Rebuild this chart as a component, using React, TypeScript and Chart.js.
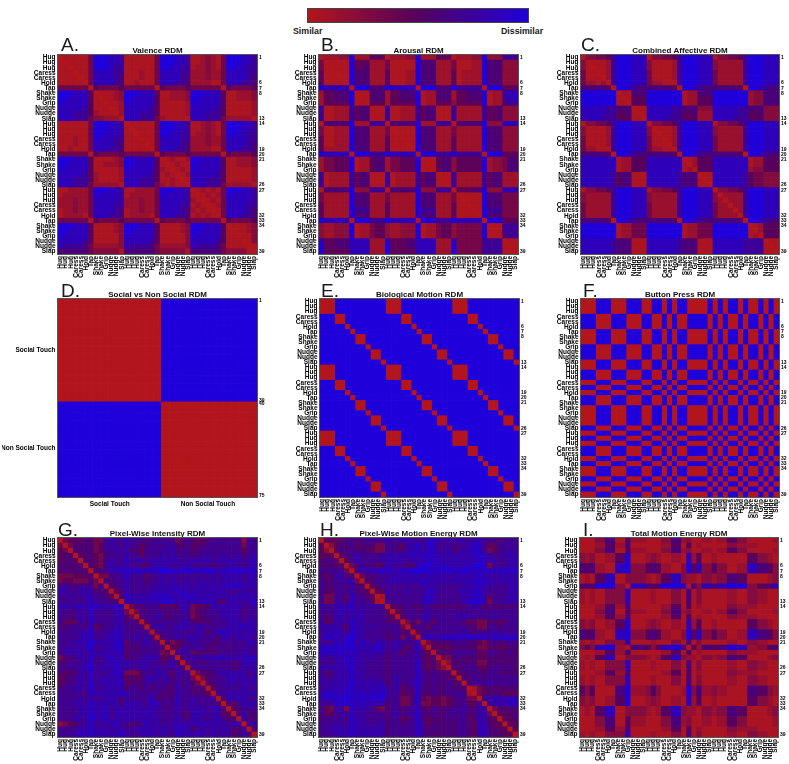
import React, { useEffect, useRef } from "react";
import { Chart, registerables } from "chart.js";

Chart.register(...registerables);

const conditionLabels = ["Hug","Hug","Hug","Caress","Caress","Hold","Tap","Shake","Shake","Grip","Nudge","Nudge","Slap",
  "Hug","Hug","Hug","Caress","Caress","Hold","Tap","Shake","Shake","Grip","Nudge","Nudge","Slap",
  "Hug","Hug","Hug","Caress","Caress","Hold","Tap","Shake","Shake","Grip","Nudge","Nudge","Slap"];
const sideTicks = [1,6,7,8,13,14,19,20,21,26,27,32,33,34,39];
const socialLabels = ["Social Touch","Non Social Touch"];
const socialLabelTicks = [20,57];
const socialSideTicks = [1,39,40,75];
const socialGroupSizes = [39,36];
const socialBlocks = [[0,9],[9,0]];

// Each digit is a read dissimilarity: 0 = most similar (red), 9 = most dissimilar (blue).
const valenceRows = [
"011111 4 999887 111111 4 999887 112321 4 999887",
"101111 4 999887 111111 4 999887 112321 4 999887",
"110111 4 999877 111111 4 998877 122321 4 998877",
"111011 4 888877 111211 4 888877 222322 4 888877",
"111101 4 888876 111211 4 888876 222322 4 888876",
"111110 4 888876 112111 4 888776 222211 4 888776",
"444444 0 544445 444444 0 544445 444444 0 544445",
"999888 5 011123 999888 5 112223 999888 5 112223",
"998888 5 101123 998888 5 112223 998888 5 112223",
"988888 5 110112 988888 5 111112 988888 5 111112",
"888887 5 111012 888887 5 111112 888887 5 111112",
"888777 5 211102 888777 5 111112 888777 5 111112",
"888777 4 332220 888777 4 211110 888777 4 222220",
"111111 4 999887 011111 4 999887 112321 4 999887",
"111111 4 999887 101111 4 999887 112321 4 999887",
"111111 4 998887 110111 4 998877 122321 4 998877",
"111211 4 988877 111011 4 888877 222322 4 888877",
"111211 4 888876 111101 4 888876 222322 4 888876",
"112111 4 888776 111110 4 888776 222211 4 888776",
"444444 0 544445 444444 0 544445 444444 0 544445",
"999888 5 111123 998888 5 012112 998888 5 112223",
"998888 5 112223 998888 5 101211 988888 5 112223",
"988888 5 111112 988888 5 210121 988888 5 111112",
"888887 5 211112 888887 5 121012 888887 5 111112",
"888777 5 211112 888777 5 112101 888777 5 111112",
"888777 4 222221 888777 4 212110 888777 4 222221",
"112222 4 999887 112222 4 999887 012121 4 999887",
"122222 4 988887 122222 4 988887 101212 4 988887",
"222322 4 888887 222322 4 888887 210121 4 888887",
"222322 4 888877 222322 4 888877 121012 4 888877",
"122322 4 888876 122322 4 888876 212101 4 888876",
"122221 4 888776 122221 4 888776 121210 4 888776",
"444444 0 544445 444444 0 544445 444444 0 544445",
"999888 5 111123 999888 5 111123 999888 5 011123",
"998888 5 111123 998888 5 111123 998888 5 101123",
"988888 5 111113 988888 5 111113 988888 5 110113",
"888887 5 111113 888887 5 111113 888887 5 111013",
"877776 4 222223 877776 4 222223 877776 4 111101",
"666666 4 333331 666666 4 333331 666666 4 333310"];

const arousalRows = [
"0 22233 9 222 555 0 22233 9 222 555 0 22233 9 333 777",
"4 01111 9 555 222 4 11111 9 666 222 4 11122 9 666 333",
"4 10111 9 556 222 4 11111 9 666 222 4 11122 9 666 333",
"5 11011 9 666 222 5 11122 9 666 222 5 12222 9 666 333",
"5 11101 9 666 222 5 11122 9 666 222 5 12222 9 666 333",
"5 11110 9 666 222 5 11122 9 666 222 5 12222 9 666 333",
"9 88888 0 999 666 9 88888 0 999 666 9 77777 0 999 555",
"2 55666 9 011 666 2 55666 9 122 666 2 55666 9 122 788",
"2 55666 9 101 666 2 55666 9 122 666 2 55666 9 122 788",
"2 55555 9 110 555 2 55555 9 122 555 3 55555 9 122 677",
"7 11222 7 566 011 7 11222 7 566 111 7 22222 7 556 333",
"7 11222 7 566 101 7 11222 7 566 111 7 22222 7 556 333",
"7 11222 7 566 110 7 11222 7 566 111 7 22222 7 556 333",
"0 66666 9 222 777 0 66666 9 222 777 0 66666 9 333 888",
"4 11222 9 666 222 4 01111 9 666 222 4 22222 9 666 333",
"4 11222 9 666 222 4 10111 9 666 222 4 22222 9 666 333",
"5 11222 9 666 222 5 11011 9 666 222 5 22222 9 666 333",
"5 11222 9 666 222 5 11101 9 666 222 5 22222 9 666 333",
"5 22222 9 666 222 5 11110 9 666 222 5 22222 9 666 333",
"9 88888 0 999 777 9 88888 0 999 777 9 77777 0 999 555",
"2 44555 9 122 566 2 44555 9 011 566 3 55555 9 233 466",
"2 44555 9 122 566 2 44555 9 101 566 3 55555 9 233 466",
"2 44555 9 122 566 2 44555 9 110 566 3 55555 9 233 466",
"7 12222 7 566 111 7 12222 7 566 011 7 22222 7 566 222",
"7 12222 7 566 111 7 12222 7 566 101 7 22222 7 566 222",
"7 12222 7 566 111 7 12222 7 566 110 7 22222 7 566 222",
"0 66666 9 333 777 0 66666 9 333 777 0 55566 9 333 888",
"4 22222 9 666 222 4 22222 9 666 222 4 01111 9 666 444",
"4 22222 9 666 222 4 22222 9 666 222 4 10111 9 666 444",
"5 22222 9 666 222 5 22222 9 666 222 5 11011 9 666 444",
"5 22222 9 777 222 5 22222 9 777 222 5 11101 9 777 444",
"5 22222 9 666 222 5 22222 9 666 222 5 11110 9 666 444",
"9 88888 0 999 777 9 88888 0 999 777 9 88888 0 999 555",
"3 22333 9 122 455 3 22333 9 122 455 3 44444 9 011 777",
"3 22333 9 122 455 3 22333 9 122 455 3 44444 9 101 777",
"3 22333 9 122 455 3 22333 9 122 455 3 44444 9 110 677",
"8 55666 8 888 222 8 55566 8 888 222 8 44444 7 777 011",
"9 55666 8 888 222 9 55566 8 888 222 9 44444 7 777 101",
"9 55555 8 888 222 9 55555 8 888 222 9 44444 7 777 110"];

const combinedRows = [
"033445 7 999 888 033445 7 999 888 133445 7 999 888",
"301112 7 999 888 311112 7 999 888 322222 7 999 888",
"310112 7 999 888 311112 7 999 888 322222 7 999 888",
"411012 7 999 888 411112 7 999 888 422222 7 999 888",
"411102 7 999 888 411112 7 999 888 422222 7 999 888",
"422120 7 999 888 422111 7 999 888 422222 7 999 888",
"666665 0 998 766 666665 0 998 766 666665 0 998 766",
"999999 9 011 666 999999 9 122 666 999999 9 233 666",
"999999 9 101 555 999999 9 122 555 999999 9 233 666",
"999999 9 110 555 999999 9 122 555 999999 9 233 666",
"888887 7 666 011 888887 7 666 333 888887 7 666 333",
"888887 7 556 101 888887 7 556 222 888887 7 556 333",
"888877 7 555 110 888877 7 555 222 888877 7 555 333",
"033445 7 999 888 033445 7 999 888 133445 7 999 888",
"311112 7 999 888 301112 7 999 888 322222 7 999 888",
"311112 7 999 888 310112 7 999 888 322222 7 999 888",
"411112 7 999 888 411012 7 999 888 422222 7 999 888",
"411112 7 999 888 411102 7 999 888 422222 7 999 888",
"422111 7 999 888 422110 7 999 888 422222 7 999 888",
"666665 0 998 766 666665 0 998 766 666665 0 998 766",
"888888 8 122 555 888888 8 012 555 888888 8 122 555",
"888888 8 122 555 888888 8 102 555 888888 8 122 555",
"888888 8 122 555 888888 8 120 555 888888 8 233 555",
"888888 7 566 111 888888 7 666 011 888888 7 544 333",
"888888 7 566 111 888888 7 666 101 888888 7 544 333",
"888888 7 566 111 888888 7 666 110 888888 7 544 333",
"133445 7 999 888 133445 7 999 888 033445 7 999 888",
"322222 7 999 888 322222 7 999 888 302222 7 999 888",
"322222 7 999 888 322222 7 999 888 320222 7 999 888",
"422222 7 999 888 422222 7 999 888 422022 7 999 888",
"422222 7 999 888 422222 7 999 888 422202 7 999 888",
"422222 7 999 888 422222 7 999 888 422220 7 999 888",
"666665 0 998 766 666665 0 998 766 666665 0 998 766",
"999999 9 122 444 999999 9 122 444 999999 9 012 555",
"999999 9 122 444 999999 9 122 444 999999 9 102 555",
"999999 9 122 444 999999 9 122 444 999999 9 120 555",
"888888 7 666 111 888888 7 666 111 888888 7 777 011",
"888888 7 666 111 888888 7 666 111 888888 7 777 101",
"888888 7 666 111 888888 7 666 111 888888 7 777 110"];

const bioHug =    "000 99 9 9 99 9 99 9";
const bioCaress = "999 00 9 9 99 9 99 9";
const bioHold =   "999 99 0 9 99 9 99 9";
const bioTap =    "999 99 9 0 99 9 99 9";
const bioShake =  "999 99 9 9 00 9 99 9";
const bioGrip =   "999 99 9 9 99 0 99 9";
const bioNudge =  "999 99 9 9 99 9 00 9";
const bioSlap =   "999 99 9 9 99 9 99 0";
const bioUnit = [bioHug,bioHug,bioHug,bioCaress,bioCaress,bioHold,bioTap,bioShake,bioShake,bioGrip,bioNudge,bioNudge,bioSlap];
const biologicalRows = [...bioUnit,...bioUnit,...bioUnit].map((r) => r + r + r);

const pressA = "000 999 000 999 00 99 0 9 0 99 0000 9 0 9 0 99 0 9 00 9 0 9 0";
const pressB = "999 000 999 000 99 00 9 0 9 00 9999 0 9 0 9 00 9 0 99 0 9 0 9";
const buttonRows = [pressA,pressA,pressA,pressB,pressB,pressB,pressA,pressA,pressA,pressB,pressB,pressB,pressA,pressA,pressB,pressB,pressA,pressB,pressA,pressB,pressB,pressA,pressA,pressA,pressA,pressB,pressA,pressB,pressA,pressB,pressB,pressA,pressB,pressA,pressA,pressB,pressA,pressB,pressA];

// Upper triangles of the symmetric matrices; "." marks the mirrored half.
const intensityRows = [
"0344455336766 7666566666356 5445666666266",
".035555346766 7664566667556 4556666666366",
"..05555346676 7554666677566 5566666666466",
"...0455435666 7664666767666 5667667667567",
"....055436766 8677677777767 7777677777678",
".....05436776 7665577776677 6666566776677",
"......0556778 8888888998889 8889878889888",
".......033566 8666466767666 6666767777677",
"........06566 7666566767667 6776767777677",
".........0556 7666667777777 6777777888777",
"..........045 7666677777877 7777777666767",
"...........05 8777788887788 8777777777877",
"............0 7777777888777 7787855777678",
"............. 0355666454577 3445777777667",
"............. .036566656576 3556667777566",
"............. ..05667655666 3456667777576",
"............. ...0566666677 5555666777677",
"............. ....067766777 6776666777877",
"............. .....05666766 6765688777677",
"............. ......0566767 7766657767776",
"............. .......053456 7666556666677",
"............. ........04466 6765566566676",
"............. .........0677 4555556666766",
"............. ..........056 7677787777788",
"............. ...........05 6656666656777",
"............. ............0 6666666655777",
"............. ............. 0355577777757",
"............. ............. .035566777767",
"............. ............. ..05566776777",
"............. ............. ...0466666766",
"............. ............. ....066777777",
"............. ............. .....05777766",
"............. ............. ......0546777",
"............. ............. .......045666",
"............. ............. ........05755",
"............. ............. .........0755",
"............. ............. ..........067",
"............. ............. ...........05",
"............. ............. ............0"];

const motionRows = [
"0444556566666 7667766688767 6776776665666",
".024556455533 6654778688667 5667886446666",
"..04656555433 6655778688667 5677886346676",
"...0456766667 7777787888777 7777888766777",
"....046766666 7777677788777 7777788676677",
".....03575645 7766558897887 7778898366677",
"......0577788 8778899988889 8898888888888",
".......035566 6777777687776 7777787767777",
"........05566 7777777877777 7777888777777",
".........0456 6666666777666 6677787766677",
"..........044 7666766687766 6777887666677",
"...........01 6666666787666 6677887466677",
"............0 6666666787666 6678897366777",
"............. 0455655665555 5556765555555",
"............. .045665676666 6666666666666",
"............. ..05666776666 6777666676666",
"............. ...0353664666 6654433554566",
"............. ....056646666 6665533665666",
"............. .....04666666 6676566676666",
"............. ......0787788 8888888788888",
"............. .......035555 6665543565666",
"............. ........04444 5555533454455",
"............. .........0555 6666644665565",
"............. ..........033 5655544555555",
"............. ...........02 5555533555555",
"............. ............0 5566644566565",
"............. ............. 0455655665555",
"............. ............. .055665666666",
"............. ............. ..05666766666",
"............. ............. ...0134554555",
"............. ............. ....034555444",
"............. ............. .....06777777",
"............. ............. ......0677788",
"............. ............. .......035555",
"............. ............. ........04455",
"............. ............. .........0445",
"............. ............. ..........044",
"............. ............. ...........04",
"............. ............. ............0"];

const energyLowA =  "1113366115222 1113366231122 1225533111112";
const energyLowB =  "1112255226111 1112255151211 1113322221111";
const energyMidA =  "3231122559111 2321122182511 2111111553321";
const energyHigh =  "6562211889333 5652211395833 5331122886653";
const energyDark =  "1215588113333 2125588322133 2336655111123";
const energyGrip =  "5659999330888 6569999816388 6889999335568";
const energyMidB =  "2121133338111 1211133161311 1112211332211";
const energyShake = "3538899221666 5358899605266 5669988223356";
const energyMidC =  "5351111669222 3531111293622 3221111665532";
const totalRows = [
  energyLowA,energyLowB,energyLowA,energyMidA,energyMidA,energyHigh,energyHigh,energyDark,energyDark,energyGrip,energyMidB,energyMidB,energyMidB,
  energyLowB,energyLowA,energyLowB,energyMidA,energyMidA,energyHigh,energyHigh,energyMidB,energyShake,energyLowB,energyDark,energyMidB,energyMidB,
  energyLowB,energyMidB,energyMidB,energyMidC,energyMidC,energyMidA,energyMidA,energyDark,energyDark,energyLowA,energyLowA,energyLowB,energyMidB];

const RED = [178, 22, 28];
const MID = [85, 0, 95];
const BLUE = [32, 0, 218];

function digitColor(v: number, power: number) {
  const t = Math.pow(Math.max(0, (v - 0.5) / 8.5), power);
  const [a, b, k] = t < 0.5 ? [RED, MID, t * 2] : [MID, BLUE, (t - 0.5) * 2];
  const c = [0, 1, 2].map((i) => Math.round((a as number[])[i] + ((b as number[])[i] - (a as number[])[i]) * (k as number)));
  return `rgb(${c[0]},${c[1]},${c[2]})`;
}

function parseRows(rows: string[]): number[][] {
  const grid = rows.map((r) => r.replace(/\s/g, "").split(""));
  return grid.map((r, i) => r.map((ch, j) => Number(ch === "." ? grid[j][i] : ch)));
}

function expandBlocks(sizes: number[], blocks: number[][]): number[][] {
  const groups: number[] = [];
  sizes.forEach((n, g) => { for (let i = 0; i < n; i++) groups.push(g); });
  return groups.map((a) => groups.map((b) => blocks[a][b]));
}

type Panel = {
  title: string; letter: string; box: number[]; letterX: number; letterY: number;
  matrix: number[][]; social?: boolean; power: number;
};

const panels: Panel[] = [
  { title: "Valence RDM", letter: "A.", box: [58, 55, 257, 254], letterX: 61, letterY: 35, power: 1.15, matrix: parseRows(valenceRows) },
  { title: "Arousal RDM", letter: "B.", box: [319, 55, 518, 254], letterX: 321, letterY: 35, power: 1.25, matrix: parseRows(arousalRows) },
  { title: "Combined Affective RDM", letter: "C.", box: [581, 55, 779, 254], letterX: 581, letterY: 35, power: 1.15, matrix: parseRows(combinedRows) },
  { title: "Social vs Non Social RDM", letter: "D.", box: [58, 299, 257, 497], letterX: 61, letterY: 281, power: 1, matrix: expandBlocks(socialGroupSizes, socialBlocks), social: true },
  { title: "Biological Motion RDM", letter: "E.", box: [320, 299, 519, 497], letterX: 321, letterY: 281, power: 1, matrix: parseRows(biologicalRows) },
  { title: "Button Press RDM", letter: "F.", box: [581, 299, 779, 497], letterX: 583, letterY: 281, power: 1, matrix: parseRows(buttonRows) },
  { title: "Pixel-Wise Intensity RDM", letter: "G.", box: [58, 538, 257, 737], letterX: 58, letterY: 520, power: 0.85, matrix: parseRows(intensityRows) },
  { title: "Pixel-Wise Motion Energy RDM", letter: "H.", box: [319, 538, 518, 737], letterX: 320, letterY: 520, power: 0.85, matrix: parseRows(motionRows) },
  { title: "Total Motion Energy RDM", letter: "I.", box: [580, 538, 778, 737], letterX: 583, letterY: 520, power: 1.1, matrix: parseRows(totalRows) },
];

const SIDE = 56;
const TOP = 13;
const BOTTOM = 27;
const FONT = "'Liberation Sans', Arial, sans-serif";

const framePlugin = {
  id: "frame",
  afterDatasetsDraw(chart: any) {
    const { left, top, right, bottom } = chart.chartArea;
    const ctx = chart.ctx;
    ctx.save();
    ctx.strokeStyle = "#555";
    ctx.lineWidth = 1;
    ctx.strokeRect(left - 0.5, top - 0.5, right - left + 1, bottom - top + 1);
    ctx.restore();
  },
};

function PanelChart({ panel }: { panel: Panel }) {
  const ref = useRef<HTMLCanvasElement>(null);
  const [l, t, r, b] = panel.box;
  const width = r - l + SIDE * 2;
  const height = b - t + TOP + BOTTOM;
  useEffect(() => {
    const n = panel.matrix.length;
    const points: { x: number; y: number }[] = [];
    const colors: string[] = [];
    panel.matrix.forEach((row, i) =>
      row.forEach((v, j) => {
        points.push({ x: j + 1, y: i + 1 });
        colors.push(digitColor(v, panel.power));
      })
    );
    const cell = (r - l) / n + 0.7;
    const mainTicks = panel.social ? socialLabelTicks : conditionLabels.map((_, i) => i + 1);
    const side = panel.social ? socialSideTicks : sideTicks;
    const labelOf = (value: number) =>
      panel.social ? socialLabels[socialLabelTicks.indexOf(value)] : conditionLabels[value - 1];
    const setTicks = (list: number[]) => (scale: any) => {
      scale.ticks = list.map((value) => ({ value }));
    };
    const labelFont = { family: FONT, size: 6.5, weight: "bold" as const };
    const chart = new Chart(ref.current as HTMLCanvasElement, {
      type: "scatter",
      data: {
        datasets: [{
          data: points,
          pointStyle: "rect",
          pointRadius: cell * Math.SQRT1_2,
          pointBorderWidth: 0,
          pointBackgroundColor: colors,
          clip: 0,
        } as any],
      },
      options: {
        responsive: false,
        animation: false,
        events: [],
        layout: { padding: 0 },
        plugins: {
          legend: { display: false },
          tooltip: { enabled: false },
          title: {
            display: true,
            text: panel.title,
            color: "#111",
            font: { family: FONT, size: 8, weight: "bold", lineHeight: "9px" } as any,
            padding: { top: 4, bottom: 0 },
          },
        },
        scales: {
          x: {
            type: "linear", min: 0.5, max: n + 0.5, position: "bottom",
            grid: { display: false, drawTicks: false },
            border: { display: false },
            afterBuildTicks: setTicks(mainTicks),
            afterFit: (s: any) => { s.height = BOTTOM; },
            ticks: {
              autoSkip: false, color: "#000", font: labelFont, padding: panel.social ? 3 : 2,
              minRotation: panel.social ? 0 : 90, maxRotation: panel.social ? 0 : 90,
              callback: (v: any) => labelOf(Number(v)),
            },
          },
          y: {
            type: "linear", min: 0.5, max: n + 0.5, reverse: true, position: "left",
            grid: { display: false, drawTicks: false },
            border: { display: false },
            afterBuildTicks: setTicks(mainTicks),
            afterFit: (s: any) => { s.width = SIDE; },
            ticks: {
              autoSkip: false, color: "#000", font: labelFont, padding: 2.5,
              callback: (v: any) => labelOf(Number(v)),
            },
          },
          y2: {
            type: "linear", axis: "y", min: 0.5, max: n + 0.5, reverse: true, position: "right",
            grid: { display: false, drawTicks: false },
            border: { display: false },
            afterBuildTicks: setTicks(side),
            afterFit: (s: any) => { s.width = SIDE; },
            ticks: {
              autoSkip: false, color: "#000", padding: 2,
              font: { family: FONT, size: 5, weight: "bold" as const },
              callback: (v: any) => String(v),
            },
          },
        },
      } as any,
      plugins: [framePlugin],
    });
    return () => chart.destroy();
  }, []);
  return (
    <canvas
      ref={ref}
      width={width}
      height={height}
      style={{ position: "absolute", left: l - SIDE, top: t - TOP, width, height }}
    />
  );
}

const textBase: React.CSSProperties = { position: "absolute", fontFamily: FONT, color: "#1a1a1a", whiteSpace: "nowrap" };

export default function App() {
  return (
    <div style={{ position: "absolute", left: 0, top: 0, width: 789, height: 764, overflow: "hidden", background: "#fff", filter: "blur(0.35px)" }}>
      <div style={{
        position: "absolute", left: 307, top: 8, width: 220, height: 13,
        border: "1px solid #444",
        background: `linear-gradient(to right, rgb(${RED}), rgb(${MID}), rgb(${BLUE}))`,
      }} />
      <div style={{ ...textBase, left: 293, top: 26, fontSize: 8.8, fontWeight: "bold", lineHeight: "11px" }}>Similar</div>
      <div style={{ ...textBase, left: 501, top: 26, fontSize: 8.8, fontWeight: "bold", lineHeight: "11px" }}>Dissimilar</div>
      {panels.map((p) => (
        <PanelChart key={p.letter} panel={p} />
      ))}
      {panels.map((p) => (
        <div key={p.letter + "t"} style={{ ...textBase, left: p.letterX, top: p.letterY, fontSize: 19, lineHeight: "20px" }}>{p.letter}</div>
      ))}
    </div>
  );
}
